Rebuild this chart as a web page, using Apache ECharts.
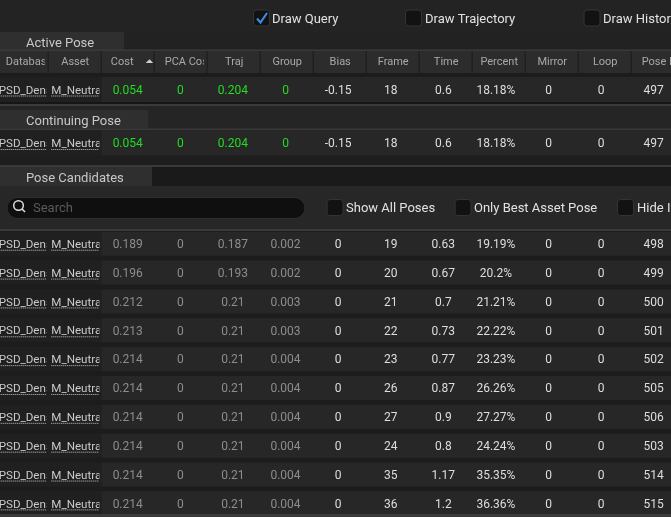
<!DOCTYPE html>
<html>
<head>
<meta charset="utf-8">
<script src="https://cdn.jsdelivr.net/npm/echarts@6/dist/echarts.min.js"></script>
<style>
html, body { margin: 0; padding: 0; background: #232323; overflow: hidden; }
#debugger { width: 671px; height: 517px; }
</style>
</head>
<body>
<div id="debugger"></div>
<script>
'use strict';

// table columns (header text)
var columns = ['Database', 'Asset', 'Cost', 'PCA Cost', 'Traj', 'Group', 'Bias', 'Frame', 'Time', 'Percent', 'Mirror', 'Loop', 'Pose Idx'];
var sortColumn = 'Cost';

// active / continuing pose rows
var activePose = ['PSD_Dense', 'M_Neutral', '0.054', '0', '0.204', '0', '-0.15', '18', '0.6', '18.18%', '0', '0', '497'];
var continuingPose = ['PSD_Dense', 'M_Neutral', '0.054', '0', '0.204', '0', '-0.15', '18', '0.6', '18.18%', '0', '0', '497'];

// pose candidates, one array per column
var candDatabase = ['PSD_Dense', 'PSD_Dense', 'PSD_Dense', 'PSD_Dense', 'PSD_Dense', 'PSD_Dense', 'PSD_Dense', 'PSD_Dense', 'PSD_Dense', 'PSD_Dense'];
var candAsset = ['M_Neutral', 'M_Neutral', 'M_Neutral', 'M_Neutral', 'M_Neutral', 'M_Neutral', 'M_Neutral', 'M_Neutral', 'M_Neutral', 'M_Neutral'];
var candCost = [0.189, 0.196, 0.212, 0.213, 0.214, 0.214, 0.214, 0.214, 0.214, 0.214];
var candPcaCost = [0, 0, 0, 0, 0, 0, 0, 0, 0, 0];
var candTraj = [0.187, 0.193, 0.21, 0.21, 0.21, 0.21, 0.21, 0.21, 0.21, 0.21];
var candGroup = [0.002, 0.002, 0.003, 0.003, 0.004, 0.004, 0.004, 0.004, 0.004, 0.004];
var candBias = [0, 0, 0, 0, 0, 0, 0, 0, 0, 0];
var candFrame = [19, 20, 21, 22, 23, 26, 27, 24, 35, 36];
var candTime = [0.63, 0.67, 0.7, 0.73, 0.77, 0.87, 0.9, 0.8, 1.17, 1.2];
var candPercent = [19.19, 20.2, 21.21, 22.22, 23.23, 26.26, 27.27, 24.24, 35.35, 36.36];
var candMirror = [0, 0, 0, 0, 0, 0, 0, 0, 0, 0];
var candLoop = [0, 0, 0, 0, 0, 0, 0, 0, 0, 0];
var candPoseIdx = [498, 499, 500, 501, 502, 505, 506, 503, 514, 515];

var FONT = 'Roboto, "Noto Sans", sans-serif';

var candRows = candCost.map(function (v, i) {
    return [candDatabase[i], candAsset[i], String(v), String(candPcaCost[i]), String(candTraj[i]),
        String(candGroup[i]), String(candBias[i]), String(candFrame[i]), String(candTime[i]),
        candPercent[i] + '%', String(candMirror[i]), String(candLoop[i]), String(candPoseIdx[i])];
});

//flatten rows into cells
function toCells(rows) {
    var cells = [];
    rows.forEach(function (row, r) {
        row.forEach(function (text, c) {
            cells.push({ c: c, r: r, text: text });
        });
    });
    return cells;
}

function headerItem(params, api) {
    var name = columns[params.dataIndex];
    var p = api.coord([params.dataIndex, 0]);
    var s = api.size([1, 1]);
    var x0 = p[0] - s[0] / 2;
    var x1 = p[0] + s[0] / 2;
    var top = p[1] - s[1] / 2;
    var long = name.length >= 8;
    var sorted = name === sortColumn;
    var children = [{
        type: 'rect',
        shape: { x: x0, y: top, width: s[0] - 1, height: s[1] },
        style: { fill: '#2c2c2c' }
    }, {
        type: 'group',
        clipPath: { type: 'rect', shape: { x: x0, y: top, width: s[0] - 4, height: s[1] } },
        children: [{
            type: 'text',
            style: {
                text: name, x: long ? x0 + 10 : (sorted ? p[0] - 6 : p[0]), y: p[1] + 0.5,
                align: long ? 'left' : 'center', verticalAlign: 'middle',
                fill: '#a9a9a9', font: '11px ' + FONT
            }
        }]
    }];
    if (sorted) {
        children.push({
            type: 'polygon',
            shape: { points: [[x1 - 9, p[1] + 1], [x1 - 5.2, p[1] - 2.8], [x1 - 1.5, p[1] + 1]] },
            style: { fill: '#d0d0d0' }
        });
    }
    return { type: 'group', children: children };
}

function cellRenderer(cells, costColor) {
    return function (params, api) {
        var cell = cells[params.dataIndex];
        var p = api.coord([cell.c, cell.r]);
        var s = api.size([1, 1]);
        var x0 = p[0] - s[0] / 2;
        var x1 = p[0] + s[0] / 2;
        var ty = p[1] + 1.3;
        if (cell.c < 2) {
            //asset links: left aligned, dotted underline, clipped
            var tx = x0 + 2.5;
            return {
                type: 'group',
                clipPath: { type: 'rect', shape: { x: tx - 4, y: p[1] - 12, width: x1 - 2 - tx + 4, height: 24 } },
                children: [{
                    type: 'text',
                    style: { text: cell.text, x: tx, y: ty, align: 'left', verticalAlign: 'middle', fill: '#cacaca', font: '11.6px ' + FONT }
                }, {
                    type: 'line',
                    shape: { x1: tx, y1: p[1] + 6.5, x2: x1 - 2, y2: p[1] + 6.5 },
                    style: { stroke: '#c6c6c6', lineWidth: 1, lineDash: [1, 1] }
                }]
            };
        }
        var color = cell.c <= 5 ? costColor : '#dedede';
        return {
            type: 'text',
            style: { text: cell.text, x: p[0], y: ty, align: 'center', verticalAlign: 'middle', fill: color, font: '12px ' + FONT }
        };
    };
}

function rowBgRenderer(padTop, padBottom) {
    return function (params, api) {
        var p = api.coord([2, api.value(0)]);
        var s = api.size([1, 1]);
        var xs = p[0] - s[0] / 2;
        var y = p[1] - s[1] / 2 + padTop;
        var h = s[1] - padTop - padBottom;
        return {
            type: 'group',
            children: [
                { type: 'rect', shape: { x: 0, y: y, width: xs, height: h }, style: { fill: '#202020' } },
                { type: 'rect', shape: { x: xs, y: y, width: 671 - xs, height: h }, style: { fill: '#272727' } }
            ]
        };
    };
}

//ui chrome helpers
function band(y, h, fill, z) {
    return { type: 'rect', z: z || 0, shape: { x: 0, y: y, width: 671, height: h }, style: { fill: fill } };
}
function label(x, y, text, size, fill) {
    return { type: 'text', z: 5, style: { text: text, x: x, y: y, verticalAlign: 'middle', fill: fill, font: size + 'px ' + FONT } };
}
function checkbox(x, y, checked) {
    var els = [{ type: 'rect', z: 5, shape: { x: x, y: y, width: 16, height: 16, r: 3 }, style: { fill: '#121212', stroke: '#343434', lineWidth: 1 } }];
    if (checked) {
        els.push({ type: 'polyline', z: 6, shape: { points: [[x + 3.5, y + 8.5], [x + 7, y + 12.5], [x + 13.5, y + 3]] }, style: { stroke: '#3d8ee6', lineWidth: 2, fill: null } });
    }
    return els;
}

var graphics = [
    band(0, 32, '#232323'),
    band(32, 18, '#222222'),
    { type: 'rect', shape: { x: 0, y: 32, width: 124, height: 18 }, style: { fill: '#2f2f2f' } },
    band(49.5, 1.5, '#3a3a3a'),
    band(51, 51, '#1c1c1c'),
    band(102, 2, '#161616'),
    band(104, 2, '#3a3a3a'),
    band(106, 22.5, '#252525'),
    { type: 'rect', shape: { x: 0, y: 110, width: 148, height: 18.5 }, style: { fill: '#2f2f2f' } },
    band(128.5, 2, '#3a3a3a'),
    band(130.5, 25, '#1c1c1c'),
    band(155.5, 9.5, '#1e1e1e'),
    band(165, 2, '#3a3a3a'),
    band(167, 19, '#1a1a1a'),
    { type: 'rect', shape: { x: 0, y: 167, width: 152, height: 19 }, style: { fill: '#2f2f2f' } },
    band(186, 43, '#272727'),
    band(229, 2, '#3a3a3a'),
    band(231, 286, '#1c1c1c'),
    band(514, 3, '#3a3a3a', 100),
    label(26, 43.5, 'Active Pose', 13, '#c8c8c8'),
    label(26, 121.5, 'Continuing Pose', 13, '#c8c8c8'),
    label(26, 179, 'Pose Candidates', 13, '#c8c8c8'),
    label(272, 19.5, 'Draw Query', 13, '#e2e2e2'),
    label(425, 19.5, 'Draw Trajectory', 13, '#e2e2e2'),
    label(603, 19.5, 'Draw History', 13, '#e2e2e2'),
    { type: 'rect', z: 5, shape: { x: 7, y: 197.5, width: 298, height: 21, r: 10.5 }, style: { fill: '#0f0f0f', stroke: '#2e2e2e', lineWidth: 1 } },
    { type: 'circle', z: 6, shape: { cx: 18.5, cy: 205.5, r: 4.8 }, style: { fill: null, stroke: '#dcdcdc', lineWidth: 1.5 } },
    { type: 'line', z: 6, shape: { x1: 22, y1: 209, x2: 25, y2: 212 }, style: { stroke: '#dcdcdc', lineWidth: 1.6 } },
    label(33, 208.5, 'Search', 13, '#5a5a5a'),
    label(346, 208.5, 'Show All Poses', 13, '#e2e2e2'),
    label(474, 208.5, 'Only Best Asset Pose', 13, '#e2e2e2'),
    label(637, 208.5, 'Hide Invalid Poses', 13, '#e2e2e2')
].concat(checkbox(253.5, 10, true), checkbox(405.5, 10, false), checkbox(584, 10, false),
    checkbox(327, 199.5, false), checkbox(455, 199.5, false), checkbox(617.5, 199.5, false));

var activeCells = toCells([activePose]);
var continuingCells = toCells([continuingPose]);
var candCells = toCells(candRows);

function xAxisOf(grid) {
    return { type: 'category', gridIndex: grid, data: columns, show: false };
}
function yAxisOf(grid, n) {
    var cats = [];
    for (var i = 0; i < n; i++) cats.push('row' + i);
    return { type: 'category', gridIndex: grid, data: cats, inverse: true, show: false };
}
function cellSeries(grid, cells, costColor) {
    return {
        type: 'custom', xAxisIndex: grid, yAxisIndex: grid, z: 4,
        renderItem: cellRenderer(cells, costColor),
        data: cells.map(function (d) { return [d.c, d.r]; })
    };
}
function rowSeries(grid, n, padTop, padBottom) {
    var rows = [];
    for (var i = 0; i < n; i++) rows.push([i]);
    return {
        type: 'custom', xAxisIndex: grid, yAxisIndex: grid, z: 2,
        renderItem: rowBgRenderer(padTop, padBottom),
        encode: { y: 0 },
        data: rows
    };
}

// the table runs past both edges of the window, so the grids must not be fitted inside it
var option = {
    animation: false,
    backgroundColor: '#232323',
    textStyle: { fontFamily: FONT },
    graphic: { elements: graphics },
    grid: [
        { left: -4.3, top: 51, width: 689, height: 22, outerBoundsMode: 'none' },
        { left: -3.8, top: 77, width: 683.8, height: 25, outerBoundsMode: 'none' },
        { left: -3.8, top: 130.5, width: 683.8, height: 25, outerBoundsMode: 'none' },
        { left: -3.8, top: 229.3, width: 683.8, height: 288.5, outerBoundsMode: 'none' }
    ],
    xAxis: [xAxisOf(0), xAxisOf(1), xAxisOf(2), xAxisOf(3)],
    yAxis: [yAxisOf(0, 1), yAxisOf(1, 1), yAxisOf(2, 1), yAxisOf(3, candRows.length)],
    series: [
        {
            type: 'custom', xAxisIndex: 0, yAxisIndex: 0, z: 3,
            renderItem: headerItem,
            data: columns.map(function (c, i) { return [i, 0]; })
        },
        rowSeries(1, 1, 0, 0),
        cellSeries(1, activeCells, '#22dc22'),
        rowSeries(2, 1, 0, 0),
        cellSeries(2, continuingCells, '#22dc22'),
        rowSeries(3, candRows.length, 2.4, 2.4),
        cellSeries(3, candCells, '#8d8d8d')
    ]
};

var chart = echarts.init(document.getElementById('debugger'));
chart.setOption(option);
</script>
</body>
</html>
